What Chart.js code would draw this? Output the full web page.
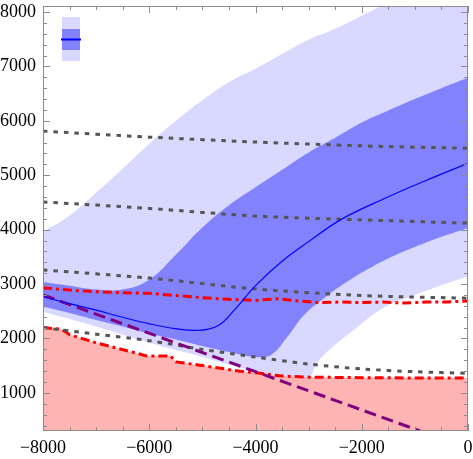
<!DOCTYPE html>
<html>
<head>
<meta charset="utf-8">
<script src="https://cdn.jsdelivr.net/npm/chart.js@4.4.1/dist/chart.umd.min.js"></script>
<style>
  body { margin: 0; background: #fff; }
  canvas { display: block; }
</style>
</head>
<body>
<canvas id="chart" width="473" height="459"></canvas>
<script>
// axis ranges and ticks
const xMin = -8000, xMax = 0;
const yMin = 300, yMax = 8110;
const xTicks = [-8000, -6000, -4000, -2000, 0];
const yTicks = [1000, 2000, 3000, 4000, 5000, 6000, 7000, 8000];

// outer (light) band
const lightUpperX = [-8000, -7500, -7000, -6500, -6000, -5500, -5000, -4500, -4000, -3500, -3000, -2500, -2000, -1500, -1000, -500, 0];
const lightUpperY = [3960, 4260, 4680, 5120, 5580, 6000, 6380, 6710, 6960, 7230, 7490, 7690, 7930, 8180, 8420, 8650, 8870];
const lightLowerX = [-8000, -7000, -6000, -5000, -4500, -4000, -3500, -3000, -2850, -2600, -2200, -1600, -1000, -500, 0];
const lightLowerY = [2490, 2220, 1920, 1660, 1520, 1400, 1320, 1290, 1540, 1800, 2120, 2560, 2800, 2980, 3140];

// inner (dark) band
const darkUpperX = [-8000, -7500, -7000, -6500, -6000, -5500, -5000, -4500, -4000, -3500, -3000, -2500, -2000, -1500, -1000, -500, 0];
const darkUpperY = [3040, 2970, 2900, 2900, 3080, 3540, 4040, 4450, 4780, 5100, 5420, 5690, 5970, 6190, 6400, 6600, 6790];
const darkLowerX = [-8000, -7500, -7000, -6500, -6000, -5500, -5000, -4500, -4000, -3700, -3400, -3100, -2700, -2300, -1800, -1300, -800, -400, 0];
const darkLowerY = [2590, 2470, 2340, 2220, 2090, 1980, 1860, 1750, 1660, 1700, 2030, 2420, 2750, 3030, 3320, 3560, 3760, 3900, 4030];

// central line
const centralX = [-8000, -7500, -7000, -6500, -6000, -5500, -5100, -4700, -4400, -4000, -3500, -3000, -2400, -1600, -800, 0];
const centralY = [2770, 2640, 2520, 2390, 2270, 2180, 2150, 2240, 2520, 2970, 3420, 3780, 4180, 4560, 4900, 5220];

// dotted gray lines
const grayX = [-8000, -6000, -4000, -2000, 0];
const grayA = [5810, 5700, 5610, 5540, 5495];
const grayB = [4510, 4390, 4250, 4180, 4120];
const grayC = [3260, 3110, 2910, 2790, 2740];
const grayDX = [-8000, -7000, -6000, -5000, -4000, -3000, -2000, -1000, 0];
const grayD = [2200, 2080, 1960, 1800, 1660, 1530, 1440, 1390, 1360];

// red dash-dot lines
const redUpperX = [-8000, -7500, -7000, -6500, -6000, -5500, -5000, -4500, -4000, -3600, -3200, -2800, -2400, -2000, -1600, -1200, -800, -400, 0];
const redUpperY = [2930, 2890, 2860, 2840, 2830, 2790, 2750, 2720, 2700, 2730, 2690, 2660, 2670, 2660, 2670, 2650, 2670, 2670, 2690];
const redLowerX = [-8000, -7650, -7500, -7000, -6750, -6050, -5600, -5500, -5050, -4300, -4000, -3500, -3000, -2000, -1000, 0];
const redLowerY = [2200, 2170, 2070, 1920, 1860, 1680, 1680, 1570, 1510, 1400, 1370, 1310, 1290, 1280, 1275, 1275];

// purple dashed line
const purpleX = [-8000, -4000, -900];
const purpleY = [2800, 1390, 300];

const lightBlue = '#d9d9ff';
const darkBlue = '#8282fc';
const pink = '#ffb4b4';

function pts(xs, ys) {
    return xs.map((x, i) => ({ x: x, y: ys[i] }));
}

function line(xs, ys, extra) {
    return Object.assign({
        data: pts(xs, ys),
        pointRadius: 0,
        fill: false,
        borderWidth: 0,
        tension: 0
    }, extra);
}

// frame, inward ticks and the small key in the corner
const framePlugin = {
    id: 'frameTicks',
    afterDatasetsDraw(chart) {
        const ctx = chart.ctx;
        const a = chart.chartArea;
        const sx = chart.scales.x, sy = chart.scales.y;
        ctx.save();

        // key
        const kx = a.left + 19, ky = a.top + 11;
        ctx.fillStyle = lightBlue;
        ctx.fillRect(kx, ky, 18, 44);
        ctx.fillStyle = darkBlue;
        ctx.fillRect(kx, ky + 12, 18, 21);
        ctx.strokeStyle = '#0000ff';
        ctx.lineWidth = 2;
        ctx.beginPath();
        ctx.moveTo(kx - 1, ky + 22.5);
        ctx.lineTo(kx + 19, ky + 22.5);
        ctx.stroke();

        ctx.strokeStyle = '#8c8c8c';
        ctx.lineWidth = 1;
        ctx.strokeRect(a.left + 0.5, a.top + 0.5, a.right - a.left - 1, a.bottom - a.top - 1);

        ctx.beginPath();
        for (let v = xMin; v <= xMax; v += 500) {
            const px = Math.round(sx.getPixelForValue(v)) + 0.5;
            const len = v % 2000 === 0 ? 7 : 4;
            ctx.moveTo(px, a.bottom); ctx.lineTo(px, a.bottom - len);
            ctx.moveTo(px, a.top); ctx.lineTo(px, a.top + len);
        }
        for (let v = 400; v <= yMax; v += 200) {
            const py = Math.round(sy.getPixelForValue(v)) + 0.5;
            const len = v % 1000 === 0 ? 7 : 4;
            ctx.moveTo(a.left, py); ctx.lineTo(a.left + len, py);
            ctx.moveTo(a.right, py); ctx.lineTo(a.right - len, py);
        }
        ctx.stroke();
        ctx.restore();
    }
};

const fmt = v => v < 0 ? '\u2212' + Math.abs(v) : String(v);
const tickFont = { family: "'Liberation Serif', 'DejaVu Serif', serif", size: 18 };
const grayStyle = { borderColor: '#555', borderWidth: 3, borderDash: [4.5, 6], tension: 0.3 };
const redStyle = { borderColor: '#ff0000', borderWidth: 3, borderDash: [9, 4, 3, 4] };

new Chart(document.getElementById('chart'), {
    type: 'line',
    data: {
        datasets: [
            line(centralX, centralY, { borderColor: '#0000ff', borderWidth: 1.2, tension: 0.4 }),
            line(purpleX, purpleY, { borderColor: '#800080', borderWidth: 3, borderDash: [12, 6] }),
            line(redUpperX, redUpperY, redStyle),
            line(grayX, grayA, grayStyle),
            line(grayX, grayB, grayStyle),
            line(grayX, grayC, grayStyle),
            line(grayDX, grayD, grayStyle),
            line(redLowerX, redLowerY, Object.assign({ fill: 'start', backgroundColor: pink }, redStyle)),
            line(darkUpperX, darkUpperY, { fill: '+1', backgroundColor: darkBlue, tension: 0.4 }),
            line(darkLowerX, darkLowerY, { tension: 0.4 }),
            line(lightUpperX, lightUpperY, { fill: '+1', backgroundColor: lightBlue, tension: 0.4 }),
            line(lightLowerX, lightLowerY, { tension: 0.4 })
        ]
    },
    options: {
        responsive: false,
        animation: false,
        devicePixelRatio: 1,
        layout: { padding: { top: 6, right: 5, left: 0, bottom: 0 } },
        plugins: { legend: { display: false }, tooltip: { enabled: false } },
        scales: {
            x: {
                type: 'linear',
                min: xMin,
                max: xMax,
                grid: { display: false, drawTicks: false },
                border: { display: false },
                afterBuildTicks: s => { s.ticks = xTicks.map(v => ({ value: v })); },
                afterFit: s => { s.height = 28; s.paddingLeft = 0; s.paddingRight = 0; },
                ticks: { color: '#000', font: tickFont, padding: 6, maxRotation: 0, autoSkip: false, callback: fmt }
            },
            y: {
                type: 'linear',
                min: yMin,
                max: yMax,
                grid: { display: false, drawTicks: false },
                border: { display: false },
                afterBuildTicks: s => { s.ticks = yTicks.map(v => ({ value: v })); },
                afterFit: s => { s.width = 43; s.paddingTop = 0; s.paddingBottom = 0; },
                ticks: { color: '#000', font: tickFont, padding: 7, autoSkip: false, callback: fmt }
            }
        }
    },
    plugins: [framePlugin]
});
</script>
</body>
</html>
